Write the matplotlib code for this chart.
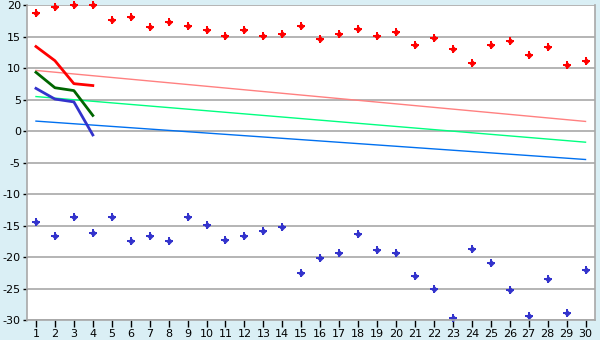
import matplotlib
matplotlib.use('Agg')
import matplotlib.pyplot as plt
import numpy as np

plt.rcParams['axes.unicode_minus'] = False

x = np.arange(1, 31)

# scatter series
red_pts = [18.7, 19.8, 20.0, 20.0, 17.6, 18.1, 16.5, 17.3, 16.7, 16.0,
           15.2, 16.0, 15.2, 15.4, 16.7, 14.6, 15.4, 16.2, 15.1, 15.7,
           13.65, 14.8, 13.0, 10.8, 13.65, 14.4, 12.1, 13.3, 10.5, 11.1]
blue_pts = [-14.45, -16.7, -13.65, -16.2, -13.65, -17.5, -16.7, -17.5, -13.65, -14.9,
            -17.3, -16.7, -15.9, -15.25, -22.5, -20.2, -19.4, -16.35, -18.9, -19.4,
            -23.0, -25.1, -29.7, -18.7, -21.0, -25.2, -29.4, -23.5, -28.9, -22.1]

# short thick lines, x = 1..4
x4 = [1, 2, 3, 4]
red_line = [13.45, 11.2, 7.55, 7.25]
green_line = [9.35, 6.9, 6.45, 2.5]
blue_line = [6.8, 5.1, 4.65, -0.6]

# thin trend lines, endpoints at x=1 and x=30
trend_x = [1, 30]
pink_trend = [9.65, 1.55]
lgreen_trend = [5.5, -1.75]
lblue_trend = [1.6, -4.5]

fig = plt.figure(figsize=(6, 3.4), dpi=100)
fig.patch.set_facecolor('#DAEFF5')
ax = fig.add_axes([26.5/600, 20/340, (595-26.5)/600, (334.7-20)/340])
ax.set_facecolor('white')

ax.set_xlim(0.5, 30.5)
ax.set_ylim(-30, 20)
ax.set_yticks(np.arange(-30, 21, 5))
ax.set_xticks(x)
ax.yaxis.grid(True, color='#A8A8A8', lw=1.2)
ax.set_axisbelow(True)

for s in ['left', 'bottom', 'right']:
    ax.spines[s].set_color('#A8A8A8')
    ax.spines[s].set_linewidth(1.2)
ax.spines['top'].set_visible(False)

ax.tick_params(axis='y', length=3, width=1, color='black', labelsize=8, pad=1)
ax.tick_params(axis='x', length=5, width=1, color='black', labelsize=8, pad=1.5)

ax.plot(trend_x, pink_trend, color='#FF8080', lw=1)
ax.plot(trend_x, lgreen_trend, color='#00FF80', lw=1)
ax.plot(trend_x, lblue_trend, color='#0070F0', lw=1)

ax.plot(x4, red_line, color='#FF0000', lw=2)
ax.plot(x4, green_line, color='#006600', lw=2)
ax.plot(x4, blue_line, color='#3333CC', lw=2)

for pts, c in [(red_pts, '#FF0000'), (blue_pts, '#3333CC')]:
    ax.plot(x, pts, 'D', color=c, ms=3.5, mew=0, ls='none', clip_on=False)
    ax.plot(x, pts, 'P', color=c, ms=5.5, mew=0, ls='none', clip_on=False)

fig.savefig('out.png', dpi=100, facecolor=fig.get_facecolor())
